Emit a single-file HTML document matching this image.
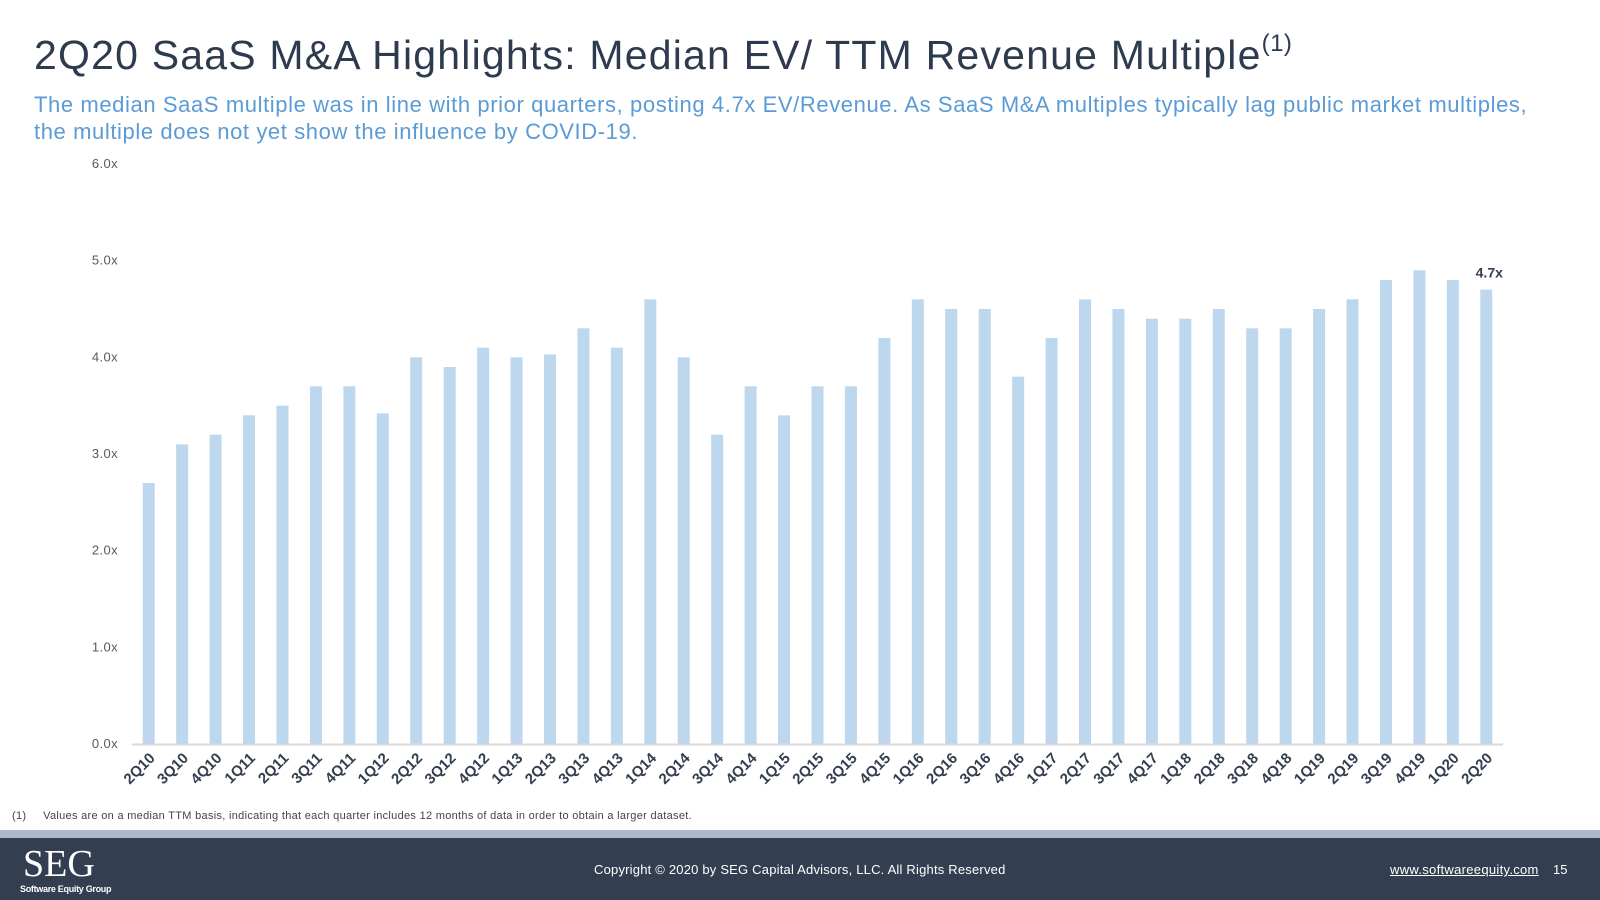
<!DOCTYPE html>
<html><head><meta charset="utf-8"><style>
body{margin:0;width:1600px;height:900px;overflow:hidden;background:#fff;font-family:"Liberation Sans",sans-serif;position:relative}
.t{position:absolute;white-space:nowrap}
</style></head><body>
<div class="t" style="left:34px;top:30px;font-size:41px;letter-spacing:1.2px;color:#2e3a4e">2Q20 SaaS M&amp;A Highlights: Median EV/ TTM Revenue Multiple<sup style="font-size:24px;vertical-align:18px;letter-spacing:0.5px">(1)</sup></div>
<div class="t" style="left:34px;top:91px;font-size:22px;letter-spacing:0.6px;line-height:27px;color:#5b9bd5">The median SaaS multiple was in line with prior quarters, posting 4.7x EV/Revenue. As SaaS M&amp;A multiples typically lag public market multiples,<br>the multiple does not yet show the influence by COVID-19.</div>
<svg id="chart" width="1600" height="820" style="position:absolute;left:0;top:0"></svg>
<div class="t" style="left:12px;top:810px;font-size:11px;letter-spacing:0.3px;color:#444">(1)&nbsp;&nbsp;&nbsp;&nbsp;&nbsp;Values are on a median TTM basis, indicating that each quarter includes 12 months of data in order to obtain a larger dataset.</div>
<div style="position:absolute;left:0;top:830px;width:1600px;height:8px;background:#adb9ca"></div>
<div style="position:absolute;left:0;top:838px;width:1600px;height:62px;background:#333f50"></div>
<div class="t" style="left:23px;top:845px;font-family:'Liberation Serif',serif;font-size:38px;color:#fff;line-height:38px">SEG</div>
<div class="t" style="left:20px;top:884px;font-size:9px;font-weight:bold;color:#fff;letter-spacing:-0.3px">Software Equity Group</div>
<div class="t" style="left:594px;top:862px;font-size:13px;color:#fff;letter-spacing:0.2px">Copyright © 2020 by SEG Capital Advisors, LLC. All Rights Reserved</div>
<div class="t" style="left:1390px;top:862px;font-size:13px;color:#fff;text-decoration:underline;letter-spacing:0.3px">www.softwareequity.com</div>
<div class="t" style="left:1553px;top:862px;font-size:13px;color:#fff">15</div>
<script>
const categories=["2Q10","3Q10","4Q10","1Q11","2Q11","3Q11","4Q11","1Q12","2Q12","3Q12","4Q12","1Q13","2Q13","3Q13","4Q13","1Q14","2Q14","3Q14","4Q14","1Q15","2Q15","3Q15","4Q15","1Q16","2Q16","3Q16","4Q16","1Q17","2Q17","3Q17","4Q17","1Q18","2Q18","3Q18","4Q18","1Q19","2Q19","3Q19","4Q19","1Q20","2Q20"];
const values=[2.7,3.1,3.2,3.4,3.5,3.7,3.7,3.42,4.0,3.9,4.1,4.0,4.03,4.3,4.1,4.6,4.0,3.2,3.7,3.4,3.7,3.7,4.2,4.6,4.5,4.5,3.8,4.2,4.6,4.5,4.4,4.4,4.5,4.3,4.3,4.5,4.6,4.8,4.9,4.8,4.7];
const yTicks=[0,1,2,3,4,5,6];
const yTickLabels=["0.0x","1.0x","2.0x","3.0x","4.0x","5.0x","6.0x"];
const lastLabel="4.7x";
const svg=document.getElementById('chart');const NS='http://www.w3.org/2000/svg';
const x0=132,x1=1503,y0=744,y6=164;
const band=(x1-x0)/categories.length;
const xS=i=>x0+band*(i+0.5);
const yS=v=>y0-(v/6)*(y0-y6);
function mk(t,a){const e=document.createElementNS(NS,t);for(const k in a)e.setAttribute(k,a[k]);svg.appendChild(e);return e;}
yTicks.forEach((v,i)=>{const t=mk('text',{x:118,y:yS(v)+4,'text-anchor':'end','font-size':'13','fill':'#595959','font-family':'Liberation Sans','letter-spacing':'0.4'});t.textContent=yTickLabels[i];

});
values.forEach((v,i)=>{const r=mk('rect',{x:xS(i)-6,y:yS(v),width:12,height:y0-yS(v),fill:'#bdd7ee'});


const cx=xS(i)+7,cy=y0+15;
const t=mk('text',{x:cx,y:cy,'text-anchor':'end','font-size':'15','font-weight':'bold','fill':'#333f50','font-family':'Liberation Sans',transform:`rotate(-45 ${cx} ${cy})`});t.textContent=categories[i];

});
const ax=mk('line',{x1:x0,x2:x1,y1:y0+0.5,y2:y0+0.5,stroke:'#d9d9d9','stroke-width':2});


const n=values.length-1;
const dl=mk('text',{x:xS(n)+3,y:yS(values[n])-12,'text-anchor':'middle','font-size':'14','font-weight':'bold','fill':'#333f50','font-family':'Liberation Sans'});dl.textContent=lastLabel;


</script>
</body></html>
